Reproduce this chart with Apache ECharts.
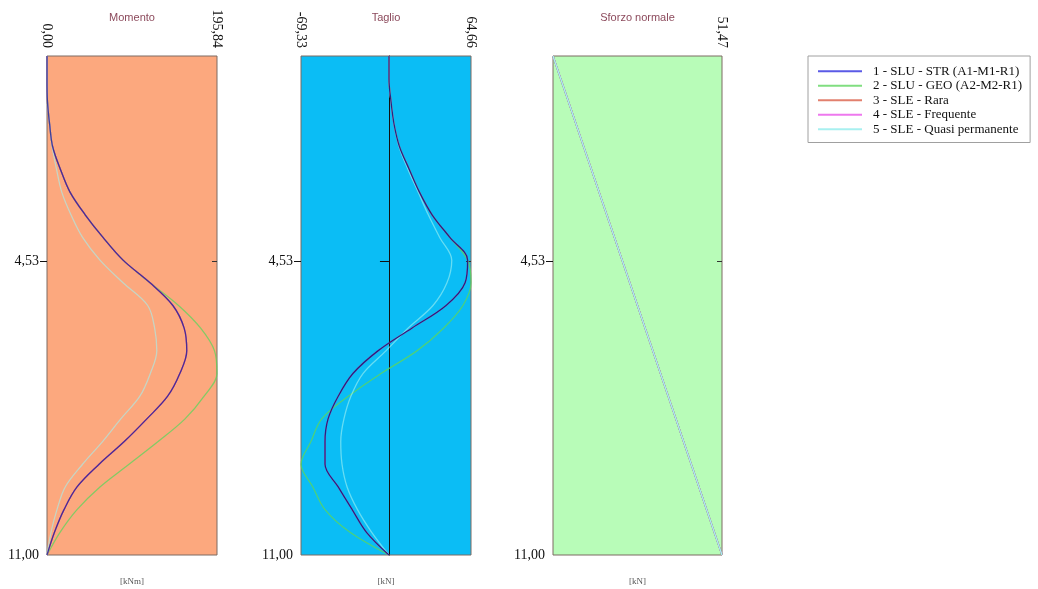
<!DOCTYPE html>
<html><head><meta charset="utf-8">
<script src="https://cdn.jsdelivr.net/npm/echarts@6/dist/echarts.min.js"></script>
<style>html,body{margin:0;padding:0;background:#fff}#c{width:1038px;height:589px}</style>
</head><body><div id="c"></div>
<script>
// ---------- data ----------
const seriesNames = ['1 - SLU - STR (A1-M1-R1)', '2 - SLU - GEO (A2-M2-R1)', '3 - SLE - Rara', '4 - SLE - Frequente', '5 - SLE - Quasi permanente'];
const panelTitles = ['Momento', 'Taglio', 'Sforzo normale'];
const panelUnits = ['[kNm]', '[kN]', '[kN]'];
const depthTicks = [4.53, 11.00];
const depthMin = 0, depthMax = 11;

// depth (m) for Momento and Taglio diagrams
const depths = [0, 0.5, 1, 1.5, 2, 2.5, 3, 3.5, 4, 4.5, 5, 5.5, 6, 6.5, 7, 7.5, 8, 8.5, 9, 9.5, 10, 10.5, 11];

// Momento [kNm]
const momRange = [0.00, 195.84];
const momSTR  = [0, 0, 0.5, 3, 6.5, 15.5, 26.5, 44, 64.5, 87.6, 118.7, 145, 158, 161, 153, 139, 115, 89, 60, 34.6, 19.6, 8.6, 0];
const momGEO  = [0, 0, 0.5, 3, 6.5, 15.5, 26.5, 44, 64.5, 87.6, 118.7, 151.5, 177, 193, 195.84, 181, 159, 128, 94.5, 61, 34.6, 15, 0];
const momRara = [0, 0, 0.5, 3, 6.5, 15.5, 26.5, 44, 64.5, 87.6, 118.7, 145, 158, 161, 153, 139, 115, 89, 60, 34.6, 19.6, 8.6, 0];
const momFreq = [0, 0, 0.5, 3, 6.5, 15.5, 26.5, 44, 64.5, 87.6, 118.7, 145, 158, 161, 153, 139, 115, 89, 60, 34.6, 19.6, 8.6, 0];
const momQP   = [0, 0, 0.5, 3, 6, 11, 17, 27.6, 41, 61, 87.6, 116, 124, 126.5, 119, 107, 85, 64, 41, 21, 11.5, 4.6, 0];

// Taglio [kN]
const tagRange = [-69.33, 64.66];
const tagSTR  = [0, 0, 1.6, 4, 8.3, 16, 24, 34, 48, 62, 60, 45, 18, -8.7, -28.4, -40, -48, -50.4, -50.4, -40, -29, -17.7, 0];
const tagGEO  = [0, 0, 1.6, 4, 8.3, 16, 24, 34, 48, 62, 64.66, 58.3, 43, 22, -6.3, -32, -53, -61.5, -69.33, -60, -50.4, -30.7, 0];
const tagRara = [0, 0, 1.6, 4, 8.3, 16, 24, 34, 48, 62, 60, 45, 18, -8.7, -28.4, -40, -48, -50.4, -50.4, -40, -29, -17.7, 0];
const tagFreq = [0, 0, 1.6, 4, 8.3, 16, 24, 34, 48, 62, 60, 45, 18, -8.7, -28.4, -40, -48, -50.4, -50.4, -40, -29, -17.7, 0];
const tagQP   = [0, 0, 1.6, 4, 8, 15, 23, 31, 40, 49.5, 45.7, 34.7, 15, -2.4, -20.5, -30, -35.5, -38, -37, -33, -24.8, -13.6, 0];

// Sforzo normale [kN]
const nRange = [0.00, 51.47];
const nDepths = [0, 11];
const nSTR  = [0, 51.47];
const nGEO  = [0, 51.47];
const nRara = [0, 51.47];
const nFreq = [0, 51.47];
const nQP   = [0, 51.47];

// ---------- chart ----------
const colors = ['#1e1e80', '#5cd65c', '#e06a58', '#e060e0', '#a4f2f2'];
const fmt = v => Number(v).toFixed(2).replace('.', ',');
const serif = 'Liberation Serif';

const panels = [
  {left: 47, width: 170, bg: '#fca87e', range: momRange, top: [momRange[0], momRange[1]], d: depths,
   vals: [momSTR, momGEO, momRara, momFreq, momQP], order: [1, 2, 3, 4, 0], opac: [0.78, 0.75, 0.85, 0.85, 0.6]},
  {left: 301, width: 170, bg: '#0bbdf5', range: tagRange, top: [tagRange[0], tagRange[1]], d: depths,
   vals: [tagSTR, tagGEO, tagRara, tagFreq, tagQP], order: [1, 2, 3, 4, 0], opac: [0.95, 0.8, 0.6, 0.6, 0.6], zero: true},
  {left: 553, width: 169, bg: '#b8fcb8', range: nRange, top: [nRange[1]], d: nDepths,
   vals: [nSTR, nGEO, nRara, nFreq, nQP], order: [0, 1, 2, 3, 4], opac: [0.8, 0.8, 0.8, 0.8, 1]}
];
const gridTop = 56, gridH = 499;

const grid = [], xAxis = [], yAxis = [], series = [], graphic = [];

panels.forEach((p, i) => {
  grid.push({left: p.left, top: gridTop, width: p.width, height: gridH, show: true,
    backgroundColor: p.bg, borderColor: '#7d6a62', borderWidth: 1});
  xAxis.push({gridIndex: i, type: 'value', position: 'top', min: p.range[0], max: p.range[1],
    axisLine: {show: false, onZero: false}, axisTick: {show: false}, splitLine: {show: false},
    axisLabel: {customValues: p.top, rotate: 90, margin: 8, formatter: fmt,
      fontFamily: serif, fontSize: 14, color: '#111'}});
  const leftIdx = yAxis.length;
  yAxis.push({gridIndex: i, type: 'value', inverse: true, min: depthMin, max: depthMax, position: 'left',
    axisLine: {show: false, onZero: false}, splitLine: {show: false},
    axisTick: {show: true, customValues: [depthTicks[0]], length: 7, lineStyle: {color: '#111'}},
    axisLabel: {customValues: depthTicks, formatter: fmt, margin: 8, fontFamily: serif, fontSize: 14, color: '#111'}});
  yAxis.push({gridIndex: i, type: 'value', inverse: true, min: depthMin, max: depthMax, position: 'right',
    axisLine: {show: false, onZero: false}, splitLine: {show: false},
    axisTick: {show: true, inside: true, customValues: [depthTicks[0]], length: 5, lineStyle: {color: '#333'}},
    axisLabel: {show: false}});
  if (p.zero) {
    yAxis.push({gridIndex: i, type: 'value', inverse: true, min: depthMin, max: depthMax, position: 'left',
      axisLine: {show: true, onZero: true, lineStyle: {color: '#111', width: 1}}, splitLine: {show: false},
      axisTick: {show: true, customValues: [depthTicks[0]], length: 9, lineStyle: {color: '#111'}},
      axisLabel: {show: false}});
  }
  p.order.forEach(k => {
    series.push({name: seriesNames[k], type: 'line', xAxisIndex: i, yAxisIndex: leftIdx,
      data: p.vals[k].map((v, j) => [v, p.d[j]]),
      symbol: 'none', smooth: 0.35, z: 3,
      lineStyle: {color: colors[k], width: 1.3, opacity: p.opac[k]}, itemStyle: {color: colors[k]}});
  });
  const cx = p.left + p.width / 2;
  graphic.push({type: 'text', x: cx, y: 18, style: {text: panelTitles[i], align: 'center', verticalAlign: 'middle',
    fill: '#8c4a5c', font: '11px "Liberation Sans"'}});
  graphic.push({type: 'text', x: cx, y: 582, style: {text: panelUnits[i], align: 'center', verticalAlign: 'middle',
    fill: '#555', font: '9px "Liberation Serif"'}});
});

const legendColors = ['#5a5ae6', '#80de80', '#e2806e', '#ee78ee', '#a8f0f0'];
const chart = echarts.init(document.getElementById('c'));
chart.setOption({
  animation: false,
  backgroundColor: '#fff',
  grid, xAxis, yAxis, series, graphic,
  legend: {orient: 'vertical', left: 808, top: 56, icon: 'rect', itemWidth: 44, itemHeight: 2, itemGap: 0,
    padding: [8, 8, 6, 10], borderColor: '#a0a0a0', borderWidth: 1,
    data: seriesNames.map((n, k) => ({name: n, itemStyle: {color: legendColors[k]}})),
    textStyle: {fontFamily: serif, fontSize: 13, color: '#111', lineHeight: 14.5, padding: [0, 0, 0, 6]}}
});
</script>
</body></html>
